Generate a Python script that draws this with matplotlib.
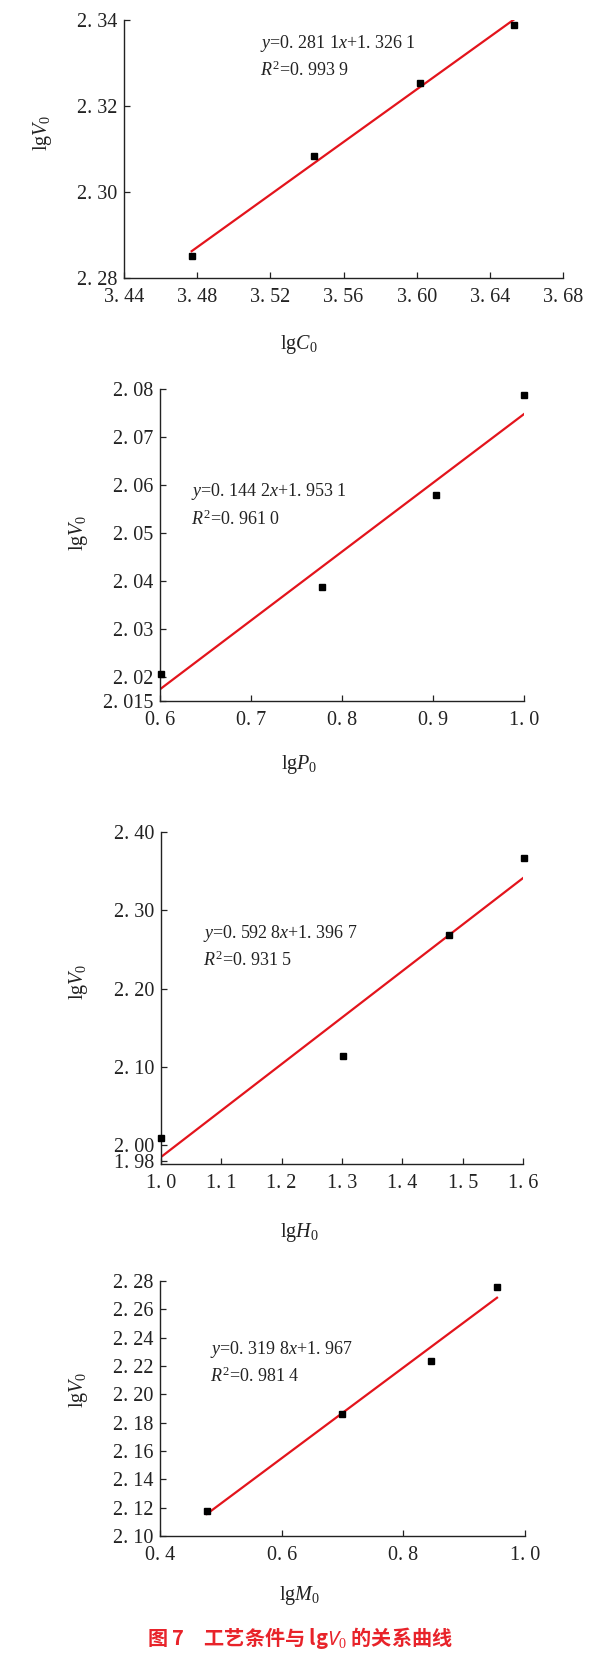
import numpy as np
import matplotlib
matplotlib.use('Agg')
import matplotlib.pyplot as plt

plt.rcParams['font.family'] = ['Liberation Serif', 'DejaVu Serif']
plt.rcParams['mathtext.fontset'] = 'custom'
plt.rcParams['mathtext.rm'] = 'Liberation Serif'
plt.rcParams['mathtext.it'] = 'Liberation Serif:italic'
plt.rcParams['mathtext.bf'] = 'Liberation Serif:bold'
plt.rcParams['mathtext.sf'] = 'Noto Sans:italic'

# data (log values)
c_x = [3.477, 3.544, 3.602, 3.653]
c_y = [2.2850, 2.3083, 2.3254, 2.3388]
p_x = [0.601, 0.778, 0.903, 1.000]
p_y = [2.0206, 2.0388, 2.0580, 2.0788]
h_x = [1.000, 1.301, 1.477, 1.602]
h_y = [2.0094, 2.1145, 2.2684, 2.3667]
m_x = [0.477, 0.699, 0.845, 0.954]
m_y = [2.1179, 2.1864, 2.2233, 2.2760]

c_xticks = [3.44, 3.48, 3.52, 3.56, 3.60, 3.64, 3.68]
c_yticks = [2.28, 2.30, 2.32, 2.34]
p_xticks = [0.6, 0.7, 0.8, 0.9, 1.0]
p_yticks = [2.015, 2.02, 2.03, 2.04, 2.05, 2.06, 2.07, 2.08]
h_xticks = [1.0, 1.1, 1.2, 1.3, 1.4, 1.5, 1.6]
h_yticks = [1.98, 2.00, 2.10, 2.20, 2.30, 2.40]
m_xticks = [0.4, 0.6, 0.8, 1.0]
m_yticks = [2.10, 2.12, 2.14, 2.16, 2.18, 2.20, 2.22, 2.24, 2.26, 2.28]

eq_text = [r"$y$=0. 281 1$x$+1. 326 1", r"$y$=0. 144 2$x$+1. 953 1",
           r"$y$=0. 592 8$x$+1. 396 7", r"$y$=0. 319 8$x$+1. 967"]
r2_text = [r"$R^2$=0. 993 9", r"$R^2$=0. 961 0",
           r"$R^2$=0. 931 5", r"$R^2$=0. 981 4"]
xlabels = [r"lg$C_0$", r"lg$P_0$", r"lg$H_0$", r"lg$M_0$"]
caption = "图 7　工艺条件与 lg$\\mathsf{V}_{0}$ 的关系曲线"

W, H = 609, 1667
fig = plt.figure(figsize=(W / 100, H / 100), dpi=100)


def px(x, y):
    return x / W, 1 - y / H


def box(l, t, r, b):
    return [l / W, 1 - b / H, (r - l) / W, (b - t) / H]


def fmt(v, nd):
    return f"{v:.{nd}f}".replace('.', '. ')


panels = [
    (box(124, 20, 563, 278), c_x, c_y, c_xticks, c_yticks, (3.44, 3.68), (2.28, 2.34), 2, 2,
     (260, 43), (43, 133), (299, 345)),
    (box(160, 389, 524, 701), p_x, p_y, p_xticks, p_yticks, (0.6, 1.0), (2.015, 2.08), 1, None,
     (191, 492), (78, 533), (299, 764)),
    (box(161, 832, 523, 1164), h_x, h_y, h_xticks, h_yticks, (1.0, 1.6), (1.976, 2.40), 1, 2,
     (203, 933), (78, 982), (299, 1233)),
    (box(160, 1281, 525, 1536), m_x, m_y, m_xticks, m_yticks, (0.4, 1.0), (2.10, 2.28), 1, 2,
     (210, 1349), (78, 1390), (299, 1595)),
]

for i, (rect, xs, ys, xt, yt, xl, yl, xnd, ynd, eqpos, ylpos, xlpos) in enumerate(panels):
    ax = fig.add_axes(rect)
    xs = np.array(xs)
    ys = np.array(ys)
    k, b = np.polyfit(xs, ys, 1)
    lx = np.array([xs.min(), xs.max()])
    ax.plot(lx, k * lx + b, color='#e3141c', lw=1.6, zorder=2)
    ax.plot(xs, ys, 's', color='black', ms=5, zorder=3, clip_on=False)
    ax.set_xlim(*xl)
    ax.set_ylim(*yl)
    ax.set_xticks(xt)
    ax.set_xticklabels([fmt(v, xnd) for v in xt])
    ax.set_yticks(yt)
    if ynd is None:
        ax.set_yticklabels([fmt(v, 3 if abs(v * 100 - round(v * 100)) > 1e-6 else 2) for v in yt])
    else:
        ax.set_yticklabels([fmt(v, ynd) for v in yt])
    for s in ['top', 'right']:
        ax.spines[s].set_visible(False)
    for s in ['left', 'bottom']:
        ax.spines[s].set_color('#222222')
        ax.spines[s].set_linewidth(1.0)
    ax.tick_params(direction='in', length=4, width=0.9, color='#222222',
                   labelsize=14.5, labelcolor='#222222')
    ax.tick_params(axis='x', pad=7)
    ax.tick_params(axis='y', pad=5)

    ex, ey = px(*eqpos)
    fig.text(ex, ey, eq_text[i], fontsize=13, color='#222222', va='center', ha='left')
    ex2, ey2 = px(eqpos[0], eqpos[1] + 27)
    fig.text(ex2, ey2, r2_text[i], fontsize=13, color='#222222', va='center', ha='left')

    yx, yy = px(*ylpos)
    fig.text(yx, yy, r"lg$V_0$", fontsize=14.5, rotation=90, color='#222222',
             va='center', ha='center')
    xx, xy = px(*xlpos)
    fig.text(xx, xy, xlabels[i], fontsize=14.5, color='#222222', va='center', ha='center')

cx, cy = px(300, 1638)
fig.text(cx, cy, caption, fontsize=14.5, color='#e8232a', fontweight='bold',
         family=['Noto Sans CJK SC', 'DejaVu Sans'], va='center', ha='center')

fig.savefig('out.png', dpi=100, facecolor='white')
